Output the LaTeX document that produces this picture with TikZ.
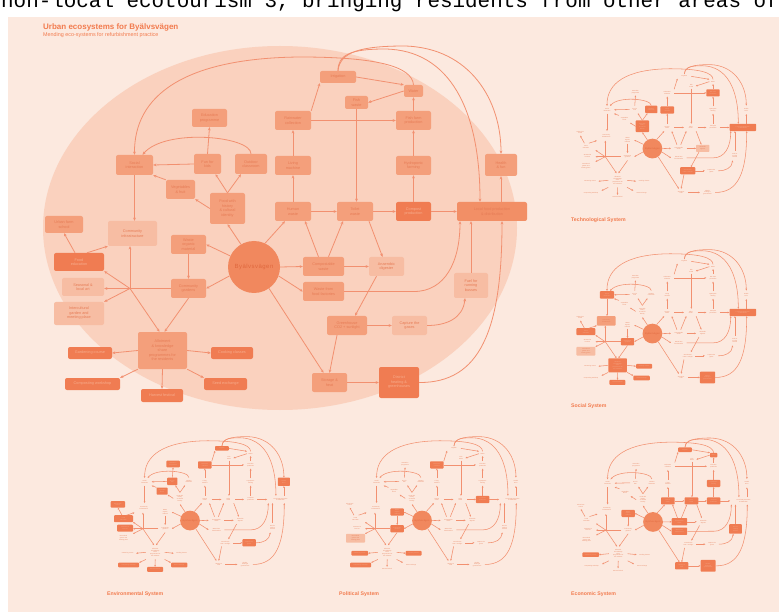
\documentclass[tikz,border=0pt]{standalone}
\usepackage{fontspec}
\setmainfont{Liberation Sans}
\newfontfamily\cutfont{Liberation Mono}
\usetikzlibrary{arrows.meta}
\definecolor{panel}{HTML}{FCE9DF}
\definecolor{blob}{HTML}{FAD1BE}
\definecolor{mdc}{HTML}{F49F7B}
\definecolor{ltc}{HTML}{F7BDA3}
\definecolor{dkc}{HTML}{F07C52}
\definecolor{wdc}{HTML}{F28F66}
\definecolor{circ}{HTML}{F1885E}
\definecolor{lnc}{HTML}{F29070}
\definecolor{txc}{HTML}{E67C56}
\definecolor{dtx}{HTML}{F7AC8C}
\definecolor{ctx}{HTML}{E0683E}
\definecolor{ttl}{HTML}{F27B4E}
\newcommand\nf{\fontsize{3.8}{4.5}\selectfont}
\newcommand\cf{\fontsize{6}{7}\selectfont\addfontfeature{LetterSpace=8}}
\newcommand\bx[6]{\node[bx,st-#1,minimum width=#4pt,minimum height=#5pt] (#1) at (#2,#3) {#6};}
\newcommand\allpl{\tikzset{st-a1/.style=pl,st-soc/.style=pl,st-b2/.style=pl,st-b3/.style=pl,st-b4/.style=pl,st-b5/.style=pl,st-a0/.style=pl,st-inf/.style=pl,st-c1/.style=pl,st-a2/.style=pl,st-a3/.style=pl,st-c2/.style=pl,st-a4/.style=pl,st-big/.style=pl,st-d1/.style=pl,st-d2/.style=pl,st-d3/.style=pl,st-d4/.style=pl,st-d5/.style=pl,st-top1/.style=pl,st-dd/.style=pl,st-e/.style=pl,st-f1/.style=pl,st-f2/.style=pl,st-g1/.style=pl,st-g2/.style=pl,st-hf/.style=pl,st-m1/.style=pl,st-m2/.style=pl,st-m3/.style=pl,st-wide/.style=pl,st-r1/.style=pl,st-r2/.style=pl,st-r3/.style=pl,st-r4/.style=pl,st-r5/.style=pl,st-r6/.style=pl,st-r7/.style=pl,st-r8/.style=pl}}
\newcommand\Diagram{%
\bx{a1}{209.5}{118}{35}{18}{Education\\programme}
\bx{soc}{134.5}{165}{37}{20}{Social\\interaction}
\bx{b2}{207.5}{164}{27}{20}{Fun for\\kids}
\bx{b3}{251}{164}{32}{20}{Outdoor\\classroom}
\bx{b4}{180.5}{189.5}{29}{19}{Vegetables\\\& fruit}
\bx{b5}{227.5}{208.5}{35}{31}{Food with\\history\\\& cultural\\identity}
\bx{a0}{64}{224.5}{38}{17}{Urban farm\\school}
\bx{inf}{132.5}{233.5}{49}{25}{Community\\infrastructure}
\bx{c1}{188.5}{244.5}{35}{19}{Waste\\organic\\material}
\bx{a2}{79}{262}{50}{18}{Food\\education}
\bx{a3}{83}{287}{42}{18}{Seasonal \&\\local art}
\bx{c2}{188.5}{288.5}{35}{19}{Community\\gardens}
\bx{a4}{79}{313.5}{50}{23}{Intercultural\\garden and\\meeting place}
\bx{big}{162.5}{350.5}{49}{37}{Allotment\\\& knowledge\\share\\programmes for\\the residents}
\bx{d1}{90}{353}{44}{12}{Gardening course}
\bx{d2}{232}{353}{42}{12}{Cooking classes}
\bx{d3}{92.5}{384}{55}{12}{Composting workshop}
\bx{d4}{225.5}{384}{43}{12}{Seed exchange}
\bx{d5}{162}{395.5}{42}{13}{Harvest festival}
\bx{top1}{338}{77}{36}{12}{Irrigation}
\bx{dd}{413.5}{91}{19}{12}{Water}
\bx{e}{356.5}{102.5}{23}{13}{Fish\\waste}
\bx{f1}{293}{120.5}{36}{19}{Rainwater\\collection}
\bx{f2}{413.5}{120.5}{35}{19}{Fish farm\\production}
\bx{g1}{293}{165.5}{36}{19}{Living\\machine}
\bx{g2}{413.5}{165.5}{35}{19}{Hydroponic\\farming}
\bx{hf}{501}{165}{32}{22}{Health\\\& fun}
\bx{m1}{293}{211.5}{36}{19}{Human\\waste}
\bx{m2}{355}{211.5}{36}{19}{Toilet\\waste}
\bx{m3}{413.5}{211.5}{35}{19}{Compost\\production}
\bx{wide}{492}{211.5}{70}{19}{Local food production\\\& distribution}
\bx{r1}{323.5}{266.5}{41}{19}{Compostable\\waste}
\bx{r2}{386.5}{266.5}{35}{19}{Anaerobic\\digester}
\bx{r3}{323.5}{291.5}{41}{19}{Waste from\\food factories}
\bx{r6}{471}{285.5}{34}{25}{Fuel for\\running\\busses}
\bx{r4}{347}{325.5}{40}{19}{Greenhouse\\CO2 + sunlight}
\bx{r5}{409.5}{325.5}{35}{19}{Capture the\\gases}
\bx{r7}{329.5}{382.5}{35}{19}{Storage \&\\heat}
\bx{r8}{399}{382.5}{40}{31}{District\\heating \&\\greenhouses}
\node[circle,fill=circ,minimum size=52pt,inner sep=0pt,font=\cf,text=ctx] (cir) at (254,267) {Byälvsvägen};
% left cluster
\draw[ar] (b2.north) -- (a1.south);
\draw[ar] (b2.west) -- (soc.east);
\draw[ar] (b3.north) .. controls (251,136) and (165,128) .. ([xshift=8]soc.north);
\draw[ar] (b5.north) -- ([xshift=8]b2.south);
\draw[ar] (b5.north) -- ([xshift=-10]b3.south);
\draw[ar] (b5.west) -- (b4.south east);
\draw[ar] (b4.north west) -- (soc.south east);
\draw[ar] (soc.south) -- (soc.south |- inf.north);
\draw[ar] (cir.120) -- (b5.south);
\draw[ar] (cir.155) -- (c1.east);
\draw[ar] (cir.200) -- (c2.east);
\draw[ar] (c1.south) -- (c2.north);
\draw[ar] (c2.west) -- (c2.west -| a3.east);
\coordinate (J) at (130,288.5);
\draw[ar] (J) -- (J |- inf.south);
\draw[ar] (J) -- (a2.south east);
\draw[ar] (J) -- (a4.north east);
\draw[ar] (J) -- ([xshift=-3]big.north);
\draw[ar] (c2.south) -- ([xshift=2]big.north);
\draw[ar] ([xshift=-4]a2.north) -- (a0.south);
\draw[ar] ([xshift=8]a2.north) -- (inf.south west);
\draw[ar] (big.west) -- (d1.east);
\draw[ar] (big.east) -- (d2.west);
\draw[ar] (big.south west) -- (d3.north east);
\draw[ar] (big.south east) -- (d4.north west);
\draw[ar] (big.south) -- (d5.north);
% right cluster
\draw[ar] (g1.north) -- (f1.south);
\draw[ar] (m1.north) -- (g1.south);
\draw[ar] (f1.north east) -- (top1.south west);
\draw[ar] (f1.east) -- (f2.west);
\draw[ar] (g2.north) -- (f2.south);
\draw[ar] (m3.north) -- (g2.south);
\draw[ar] (f2.north) -- (dd.south);
\draw[ar] (dd.west) -- (e.east);
\draw[ar] (top1.east) -- (dd.north west);
\draw[ar] (e.south) -- (e.south |- m2.north);
\draw[ar] (m1.east) -- (m2.west);
\draw[ar] (m2.east) -- (m3.west);
\draw[ar] (m3.east) -- (wide.west);
\draw[ar] (hf.south |- wide.north) -- (hf.south);
\draw[ar] (cir.65) -- ([xshift=-8]m1.south);
\draw[ar] ([xshift=-5]r1.north) -- ([xshift=12]m1.south);
\draw[ar] ([xshift=5]r1.north) -- ([xshift=-12]m2.south);
\draw[ar] ([xshift=14]m2.south) -- ([xshift=-4]r2.north);
\draw[ar] (cir.east) -- (r1.west);
\draw[ar] (cir.-20) -- (r3.west);
\draw[ar] (r1.east) -- (r2.west);
\draw[ar] ([xshift=-10]r2.south) -- ([xshift=8]r4.north);
\draw[ar] (r3.east) -- (414,291.5) .. controls (445,291.5) and (460,262) .. ([xshift=-32]wide.south);
\draw[ar] (r6.north) -- (r6.north |- wide.south);
\draw[ar] (r4.east) -- (r5.west);
\draw[ar] (r5.east) .. controls (447,325.5) and (463,318) .. ([xshift=-6]r6.south);
\draw[ar] ([xshift=-10]r4.south) -- (r7.north);
\draw[ar] (cir.-55) -- ([xshift=-6]r7.north);
\draw[ar] (r7.east) -- (r8.west);
\draw[ar] (r8.east) .. controls (480,383) and (502,330) .. ([xshift=10]wide.south);
% top arcs
\draw[ar] (dd.north) .. controls (412,66) and (375,57) .. (300,57) .. controls (185,58) and (134,95) .. (soc.north);
\draw[ar] (top1.north) .. controls (338,55) and (350,49) .. (385,49) .. controls (450,50) and (480,110) .. ([xshift=-12]wide.north);
\draw[ar] (top1.north) .. controls (340,52) and (360,46) .. (405,46) .. controls (470,48) and (501,100) .. (hf.north);
}
\begin{document}
\begin{tikzpicture}[x=1pt,y=-1pt,
  bxr/.style={rounded corners=2pt},
  bx/.style={rectangle,bxr,inner sep=0.5pt,align=center,font=\nf,text=txc},
  md/.style={fill=mdc}, lt/.style={fill=ltc}, dk/.style={fill=dkc,text=dtx},
  wd/.style={fill=wdc}, pl/.style={fill=none},
  ln/.style={draw=lnc,line width=0.8pt},
  ar/.style={ln,-{Stealth[length=3.2pt,width=2.8pt]}},
  small/.style={scale=0.38,transform shape,bxr/.style={rounded corners=0.8pt},ln/.style={draw=lnc,line width=0.55pt},ar/.style={ln,-{Stealth[length=1.9pt,width=1.7pt]}}},
  lab/.style={anchor=west,inner sep=0pt,text=ttl,font=\fontsize{5.2}{6}\selectfont\bfseries}]
\useasboundingbox (0,0) rectangle (779,612);
\fill[white] (0,0) rectangle (779,612);
\fill[panel] (8,17) rectangle (779,612);
\node[anchor=base west,inner sep=0pt,font=\cutfont\fontsize{20.9}{22}\selectfont] (cut) at (1,7.5) {non-local ecotourism 3, bringing residents from other areas of};
\node[anchor=base west,inner sep=0pt,text=ttl,font=\fontsize{8}{9}\selectfont\bfseries] (title) at (43,29.5) {Urban ecosystems for Byälvsvägen};
\node[anchor=base west,inner sep=0pt,text=ttl,font=\fontsize{5.4}{6}\selectfont] (subtitle) at (43,36.5) {Mending eco-systems for refurbishment practice};
\fill[blob] (280,228) ellipse [x radius=237pt, y radius=182pt];
% main diagram
\begin{scope}[name prefix=m-]
\tikzset{st-a1/.style=md,st-soc/.style=md,st-b2/.style=md,st-b3/.style=md,st-b4/.style=md,st-b5/.style=md,st-a0/.style=md,st-inf/.style=lt,st-c1/.style=md,st-a2/.style=dk,st-a3/.style=lt,st-c2/.style=md,st-a4/.style=lt,st-big/.style=md,st-d1/.style=dk,st-d2/.style=dk,st-d3/.style=dk,st-d4/.style=dk,st-d5/.style=dk,st-top1/.style=md,st-dd/.style=md,st-e/.style=md,st-f1/.style=md,st-f2/.style=md,st-g1/.style=md,st-g2/.style=md,st-hf/.style=md,st-m1/.style=md,st-m2/.style=md,st-m3/.style=dk,st-wide/.style=wd,st-r1/.style=md,st-r2/.style=lt,st-r3/.style=md,st-r4/.style=md,st-r5/.style=lt,st-r6/.style=lt,st-r7/.style=md,st-r8/.style=dk}
\Diagram
\end{scope}
% small diagrams
\begin{scope}[name prefix=t-,shift={(555.9,47.1)},small]
\allpl
\tikzset{st-b3/.style=dk,st-g1/.style=dk,st-f2/.style=dk,st-b5/.style=dk,st-wide/.style=dk,st-r4/.style=dk,st-r2/.style=lt}
\Diagram
\end{scope}
\begin{scope}[name prefix=s-,shift={(555.9,232.1)},small]
\allpl
\tikzset{st-soc/.style=dk,st-a2/.style=dk,st-inf/.style=md,st-a4/.style=lt,st-c2/.style=dk,st-big/.style=dk,st-d2/.style=dk,st-d4/.style=dk,st-d5/.style=dk,st-r8/.style=dk,st-wide/.style=dk}
\Diagram
\end{scope}
\begin{scope}[name prefix=v-,shift={(93.5,419.1)},small]
\allpl
\tikzset{st-top1/.style=dk,st-a1/.style=dk,st-f1/.style=dk,st-b2/.style=dk,st-b4/.style=dk,st-hf/.style=dk,st-a0/.style=dk,st-a2/.style=dk,st-a3/.style=dk,st-r5/.style=dk,st-d3/.style=dk,st-d4/.style=dk,st-d5/.style=dk}
\Diagram
\end{scope}
\begin{scope}[name prefix=p-,shift={(325.5,419.1)},small]
\allpl
\tikzset{st-f1/.style=dk,st-m3/.style=dk,st-c1/.style=dk,st-c2/.style=dk,st-a4/.style=lt,st-d1/.style=dk,st-d2/.style=dk,st-d3/.style=dk}
\Diagram
\end{scope}
\begin{scope}[name prefix=k-,shift={(556.5,420.5)},small]
\allpl
\tikzset{st-top1/.style=dk,st-dd/.style=dk,st-g2/.style=dk,st-m1/.style=dk,st-m2/.style=dk,st-m3/.style=dk,st-c1/.style=dk,st-r1/.style=dk,st-r3/.style=dk,st-r6/.style=dk,st-d1/.style=dk,st-r7/.style=dk,st-r8/.style=dk}
\Diagram
\end{scope}
\node[lab] (l1) at (571,220) {Technological System};
\node[lab] (l2) at (571,406) {Social System};
\node[lab] (l3) at (107,594) {Environmental System};
\node[lab] (l4) at (339,594) {Political System};
\node[lab] (l5) at (571,594) {Economic System};
\end{tikzpicture}
\end{document}
